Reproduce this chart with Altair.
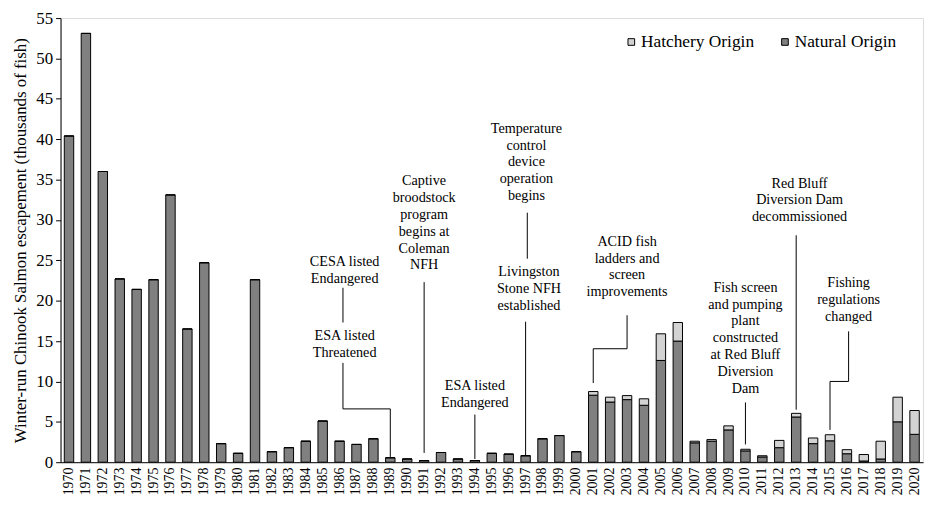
import altair as alt
import pandas as pd

years = list(range(1970, 2021))
natural = [40.4, 53.1, 36.0, 22.7, 21.4, 22.6, 33.1, 16.5, 24.7, 2.3,
           1.1, 22.6, 1.3, 1.8, 2.6, 5.1, 2.6, 2.2, 2.9, 0.55,
           0.4, 0.2, 1.2, 0.4, 0.2, 1.1, 1.0, 0.8, 2.9, 3.3,
           1.3, 8.3, 7.45, 7.75, 7.05, 12.6, 15.0, 2.4, 2.6, 4.0,
           1.4, 0.65, 1.8, 5.6, 2.3, 2.65, 1.05, 0.15, 0.4, 5.0,
           3.45]
hatchery = [0.0] * 31 + [0.45, 0.6, 0.5, 0.8, 3.3, 2.3, 0.2, 0.2, 0.5,
                         0.2, 0.15, 0.9, 0.45, 0.7, 0.75, 0.5, 0.8, 2.2, 3.05,
                         2.95]

series_names = ["Hatchery Origin", "Natural Origin"]
series_colors = ["#d3d3d3", "#808080"]

# annotation labels (text, year position, value at first line centre)
ann_lines = [
    "CESA listed\nEndangered",
    "ESA listed\nThreatened",
    "Captive\nbroodstock\nprogram\nbegins at\nColeman\nNFH",
    "ESA listed\nEndangered",
    "Temperature\ncontrol\ndevice\noperation\nbegins",
    "Livingston\nStone NFH\nestablished",
    "ACID fish\nladders and\nscreen\nimprovements",
    "Red Bluff\nDiversion Dam\ndecommissioned",
    "Fish screen\nand pumping\nplant\nconstructed\nat Red Bluff\nDiversion\nDam",
    "Fishing\nregulations\nchanged",
]
ann_x = [1986.3, 1986.3, 1991.0, 1994.0, 1997.05, 1997.2, 2003.0, 2013.2, 2010.0, 2016.1]
ann_y = [24.8, 15.6, 34.8, 9.4, 41.3, 23.5, 27.3, 34.5, 21.6, 22.2]

# connector segments (x1, y1, x2, y2) in (year, thousands)
seg_x1 = [1986.2, 1986.2, 1986.2, 1989.0, 1991.0, 1994.0, 1997.1, 1997.0,
          2003.0, 2003.0, 2001.0, 2013.0, 2010.0, 2016.1, 2016.1, 2015.0]
seg_y1 = [21.6, 12.3, 6.6, 6.6, 22.3, 5.9, 30.9, 17.4,
          18.2, 14.05, 14.05, 28.1, 7.4, 16.2, 10.0, 10.0]
seg_x2 = [1986.2, 1986.2, 1989.0, 1989.0, 1991.0, 1994.0, 1997.1, 1997.0,
          2003.0, 2001.0, 2001.0, 2013.0, 2010.0, 2016.1, 2015.0, 2015.0]
seg_y2 = [17.3, 6.6, 6.6, 0.65, 1.15, 0.4, 25.2, 0.85,
          14.05, 14.05, 9.8, 6.5, 2.2, 10.0, 10.0, 4.0]

FONT = "Liberation Serif"

rows = []
for yr, n, h in zip(years, natural, hatchery):
    rows.append({"year": yr, "origin": "Natural Origin", "value": n, "ord": 0})
    rows.append({"year": yr, "origin": "Hatchery Origin", "value": h, "ord": 1})
bars_df = pd.DataFrame(rows)

ann_df = pd.DataFrame({"label": ann_lines, "x": ann_x, "y": ann_y})
seg_df = pd.DataFrame({"x": seg_x1, "y": seg_y1, "x2": seg_x2, "y2": seg_y2})

xq = alt.Scale(domain=[1969.5, 2020.5], nice=False, zero=False)
yscale = alt.Scale(domain=[0, 55], nice=False)

bars = alt.Chart(bars_df).mark_bar(stroke="black", strokeWidth=1).encode(
    x=alt.X("year:O", scale=alt.Scale(paddingInner=0.443, paddingOuter=0.2215),
            axis=alt.Axis(labelAngle=270, ticks=False, grid=False, title=None,
                          labelFontSize=14, labelFont=FONT, labelColor="black",
                          labelPadding=5, domainColor="black")),
    y=alt.Y("value:Q", stack="zero", scale=yscale,
            axis=alt.Axis(values=list(range(0, 56, 5)), grid=False, tickSize=5,
                          tickColor="black", domainColor="black", labelFontSize=17,
                          labelFont=FONT, labelColor="black", labelPadding=3,
                          title="Winter-run Chinook Salmon escapement (thousands of fish)",
                          titleFont=FONT, titleFontSize=17, titleFontWeight="normal",
                          titleColor="black", titlePadding=6)),
    color=alt.Color("origin:N",
                    scale=alt.Scale(domain=series_names, range=series_colors),
                    legend=alt.Legend(title=None, orient="none", direction="horizontal",
                                      legendX=567, legendY=15, symbolType="square",
                                      symbolSize=45, symbolStrokeColor="black",
                                      symbolStrokeWidth=1, labelFont=FONT,
                                      labelFontSize=17.5, labelColor="black",
                                      labelOffset=1, columnPadding=22)),
    order=alt.Order("ord:Q"),
)

segs = alt.Chart(seg_df).mark_rule(color="black", strokeWidth=1).encode(
    x=alt.X("x:Q", scale=xq, axis=None), y=alt.Y("y:Q", scale=yscale),
    x2="x2:Q", y2="y2:Q",
)

texts = alt.Chart(ann_df).mark_text(font=FONT, fontSize=14.3, lineBreak="\n",
                                    lineHeight=17, baseline="middle", align="center",
                                    color="black").encode(
    x=alt.X("x:Q", scale=xq, axis=None), y=alt.Y("y:Q", scale=yscale), text="label:N",
)

chart = alt.layer(bars, segs, texts).resolve_scale(x="independent").properties(
    width=870, height=448,
    autosize=alt.AutoSizeParams(type="none"),
    padding={"left": 53, "top": 8, "right": 2, "bottom": 40},
).configure_view(stroke=None).configure(background="white")

chart.save("out.html", embed_options={"renderer": "svg", "actions": False})
